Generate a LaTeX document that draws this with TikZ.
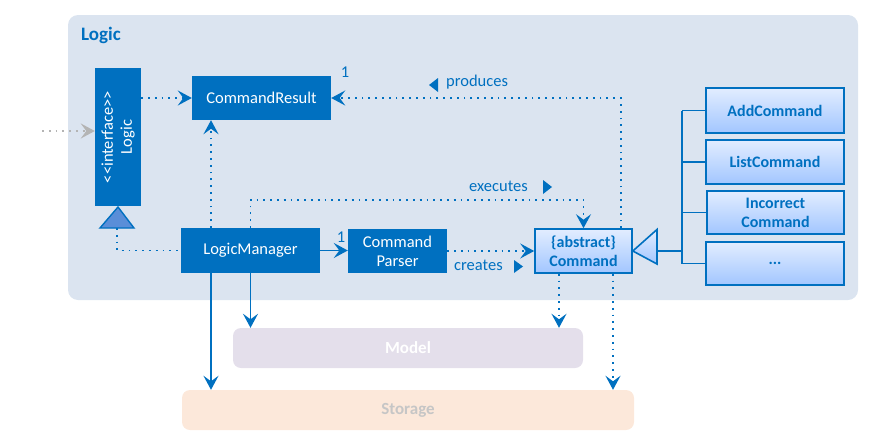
\documentclass[tikz,border=0pt]{standalone}
\usepackage{fontspec}
\setmainfont{Carlito}
\usetikzlibrary{arrows.meta}

\definecolor{uml}{HTML}{0070C0}
\definecolor{panel}{HTML}{DBE4F0}
\definecolor{gradtop}{HTML}{E2EDFF}
\definecolor{gradbot}{HTML}{A2C6FF}
\definecolor{ifacetri}{HTML}{5A8ED8}
\definecolor{modelbg}{HTML}{E4DFEB}
\definecolor{storagebg}{HTML}{FCE8DA}
\definecolor{storagetxt}{HTML}{C6C6C6}
\definecolor{extline}{HTML}{B4B4B4}

\tikzset{
  tip/.style={-{Stealth[length=14pt,width=15pt,inset=5.5pt]}},
  solidbox/.style={fill=uml,text=white,inner sep=0pt,align=center},
  gradbox/.style={draw=uml,line width=1.6pt,top color=gradtop,bottom color=gradbot,
    text=uml,inner sep=0pt,align=center,font=\fontsize{16}{19}\selectfont\bfseries},
  compbox/.style={rounded corners=8pt,inner sep=0pt,
    font=\fontsize{17}{19}\selectfont\bfseries},
  dep/.style={uml,line width=1.8pt,dash pattern=on 1.8pt off 5pt,tip},
  assoc/.style={uml,line width=1.8pt,tip},
  lbl/.style={text=uml,inner sep=0pt}
}

\begin{document}
\begin{tikzpicture}[x=1pt,y=-1pt,
  every node/.style={font=\fontsize{16.5}{19}\selectfont}]
  \useasboundingbox (0,0) rectangle (880,447);

  % logic component
  \node[fill=panel,rounded corners=10pt,minimum width=790,minimum height=285,inner sep=0pt]
    (logic) at (463,157.5) {};
  \node[lbl,anchor=west,font=\fontsize{19}{22}\selectfont\bfseries] (logictitle) at (81,35) {Logic};

  % classes
  \node[solidbox,minimum width=46,minimum height=138] (iface) at (118,137) {};
  \node[text=white,rotate=90,align=center,inner sep=0pt] (ifacetext) at (iface)
    {<\kern0pt<interface>\kern0pt>\\Logic};
  \node[solidbox,minimum width=139,minimum height=44] (result) at (261.5,98) {CommandResult};
  \node[solidbox,minimum width=139,minimum height=45] (manager) at (250.5,250.5) {LogicManager};
  \node[solidbox,minimum width=99,minimum height=44] (parser) at (397.5,251) {Command\\Parser};
  \node[gradbox,minimum width=97,minimum height=44] (command) at (583.5,251) {\{abstract\}\\Command};

  \node[gradbox,minimum width=138,minimum height=45] (addcmd) at (775,110.5) {AddCommand};
  \node[gradbox,minimum width=138,minimum height=44] (listcmd) at (775,162) {ListCommand};
  \node[gradbox,minimum width=137,minimum height=43] (badcmd) at (775.5,212.5) {Incorrect\\Command};
  \node[gradbox,minimum width=138,minimum height=43] (morecmd) at (775,263.5) {...};

  % other components
  \node[compbox,fill=modelbg,text=white,minimum width=350,minimum height=40]
    (model) at (408,348) {Model};
  \node[compbox,fill=storagebg,text=storagetxt,minimum width=452,minimum height=40]
    (storage) at (408,410) {Storage};

  % realization of Logic
  \draw[uml,line width=1.4pt,fill=ifacetri] (118,207) -- (134,228) -- (100,228) -- cycle;
  \coordinate (ifacebase) at (117,228);
  \draw[dep,-] (ifacebase) |- (manager.west);

  % inheritance of Command
  \draw[uml,line width=1.6pt,top color=gradtop,bottom color=gradbot]
    (command.east) -- (657,229.5) -- (657,264) -- cycle;
  \coordinate (trunk) at (682,251);
  \draw[uml,line width=1.8pt] (657,251) -- (trunk);
  \draw[uml,line width=1.8pt] (trunk |- addcmd) -- (trunk |- morecmd);
  \foreach \c in {addcmd,listcmd,badcmd,morecmd} {
    \draw[uml,line width=1.8pt] (trunk |- \c) -- (\c.west);
  }

  % dependencies
  \coordinate (ext) at (42,131);
  \draw[dep,extline] (ext) -- (ext -| iface.west);
  \draw[dep] (iface.east |- result) -- (result.west);
  \draw[dep] ([xshift=-39.5pt]manager.north) -- ([xshift=-39.5pt]manager.north |- result.south);
  \draw[dep] ([xshift=-12pt]command.north east) |- (result.east);
  \draw[dep] (manager.north) -- ++(0,-28) -| (command.north);
  \draw[assoc] (manager.east) -- (manager.east -| parser.west);
  \draw[dep] (parser.east) -- (parser.east -| command.west);
  \draw[assoc] (manager.south) -- (manager.south |- model.north);
  \draw[assoc] ([xshift=-39.5pt]manager.south) -- ([xshift=-39.5pt]manager.south |- storage.north);
  \draw[dep] ([xshift=-24.5pt]command.south) -- ([xshift=-24.5pt]command.south |- model.north);
  \draw[dep] ([xshift=29.5pt]command.south) -- ([xshift=29.5pt]command.south |- storage.north);

  % labels
  \node[lbl] (resultmult) at (345,72) {1};
  \node[lbl] (parsermult) at (341,237) {1};
  \node[lbl,anchor=west] (produces) at (446,82) {produces};
  \fill[uml] (429,85) -- (438,78) -- (438,92) -- cycle;
  \node[lbl,anchor=west] (executes) at (469,186) {executes};
  \fill[uml] (552,187) -- (543,180) -- (543,194) -- cycle;
  \node[lbl,anchor=west] (creates) at (454,265) {creates};
  \fill[uml] (523,266.5) -- (514,260) -- (514,273) -- cycle;
\end{tikzpicture}
\end{document}
